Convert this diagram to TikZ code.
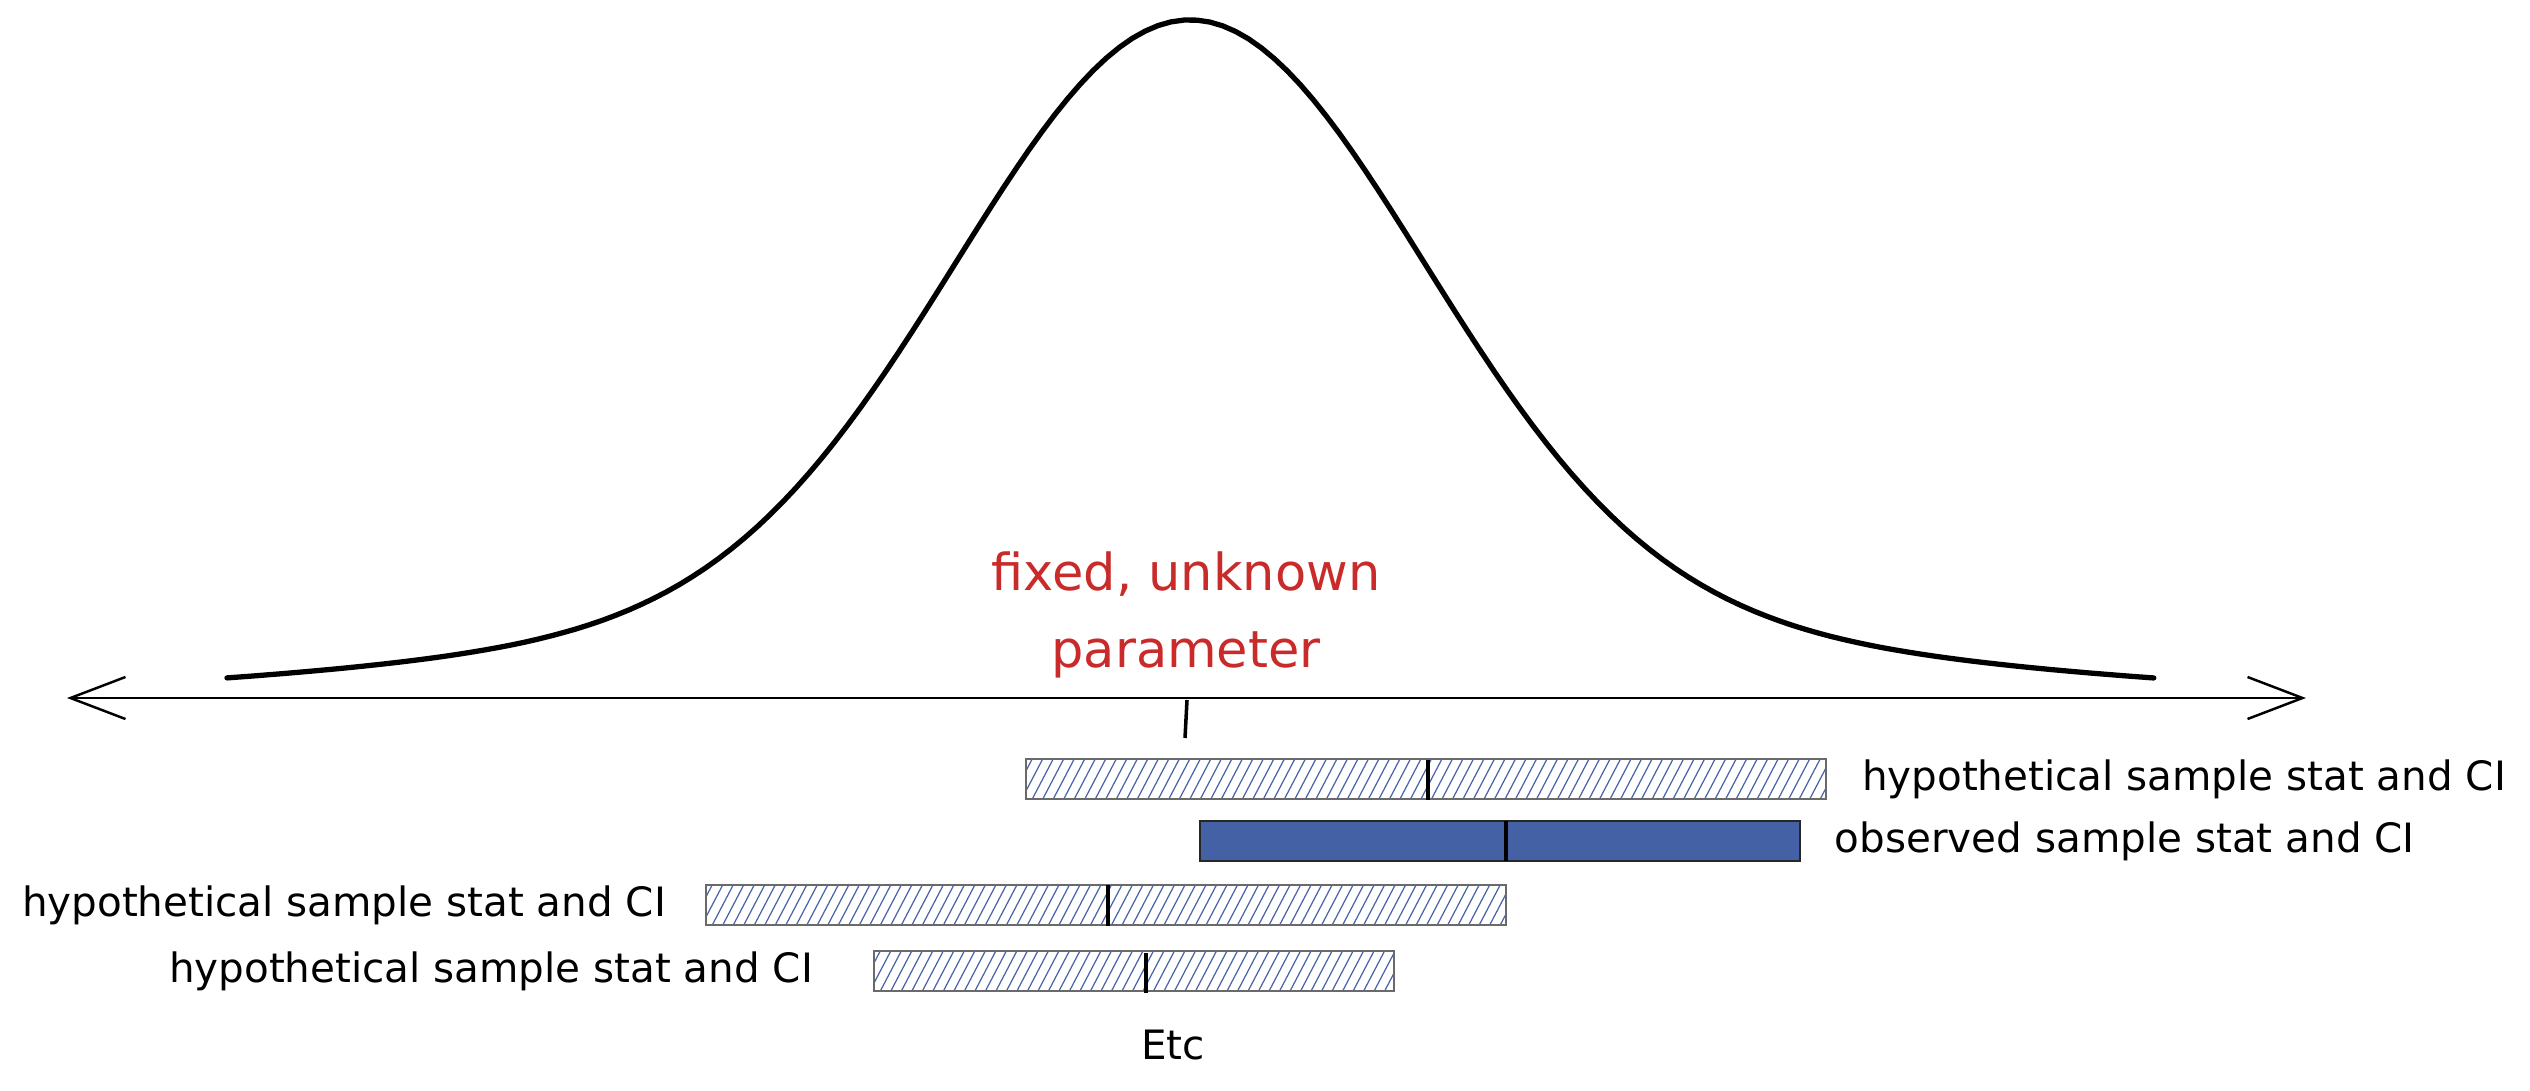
\documentclass[tikz,border=0pt]{standalone}
\usepackage{fontspec}
\setmainfont{DejaVu Sans}
\usetikzlibrary{arrows.meta,positioning}
\definecolor{paramred}{HTML}{C92A2A}
\definecolor{ciblue}{HTML}{4361A4}
\definecolor{hatchblue}{HTML}{4A64AA}
\definecolor{cigrey}{HTML}{6A6A6A}

\begin{document}
\begin{tikzpicture}[x=0.01cm, y=-0.01cm,
    hypo/.style={draw=cigrey, line width=0.6pt, inner sep=0pt, minimum height=0.4cm,
        path picture={\foreach \k in {0,...,82}
            \draw [hatchblue, line width=0.35pt] ([xshift=\k*1.05mm-2.5mm]path picture bounding box.south west)--++(2.3mm, 4.4mm);}},
    obs/.style={draw=black!85, line width=0.6pt, fill=ciblue, inner sep=0pt, minimum height=0.4cm},
    stat/.style={line width=1.2pt},
    lbl/.style={inner sep=0pt, font=\fontsize{11.5}{14}\selectfont}]
    \useasboundingbox (0,0) rectangle (2530,1091);

    \coordinate(axisL) at (67, 698);
    \coordinate(axisR) at (2306, 698);
    \draw [{Straight Barb[length=5.5mm, width=4.2mm]}-{Straight Barb[length=5.5mm, width=4.2mm]}, line width=0.7pt] (axisL)--(axisR);

    \draw [line width=1.5pt, line cap=round] plot[domain=-9.63:9.64, samples=150]
        ({1190+100*\x}, {700-680*(0.85*exp(-\x*\x/10.58)+0.15*exp(-\x*\x/60.5))});

    \draw [line width=1pt] (1187,700)--(1185,738);
    \node(param) [text=paramred, align=center, inner sep=0pt,
        font=\fontsize{14.5}{22}\selectfont] at (1186, 615) {fixed, unknown\\parameter};

    \node(bar1) [hypo, minimum width=8cm] at (1426, 779) {};
    \node(bar2) [obs, minimum width=6cm] at (1500, 841) {};
    \node(bar3) [hypo, minimum width=8cm] at (1106, 905) {};
    \node(bar4) [hypo, minimum width=5.2cm] at (1134, 971) {};

    \draw [stat] (1428, 760)--(1428, 800);
    \draw [stat] (1506, 821)--(1506, 861);
    \draw [stat] (1108, 885)--(1108, 926);
    \draw [stat] (1146, 953)--(1146, 993);

    \node(lab1) [lbl, right=0.34cm of bar1] {hypothetical sample stat and CI};
    \node(lab2) [lbl, right=0.33cm of bar2] {observed sample stat and CI};
    \node(lab3) [lbl, left=0.38cm of bar3] {hypothetical sample stat and CI};
    \node(lab4) [lbl, left=0.59cm of bar4] {hypothetical sample stat and CI};

    \node(etc) [lbl] at (1173, 1045) {Etc};
\end{tikzpicture}
\end{document}
